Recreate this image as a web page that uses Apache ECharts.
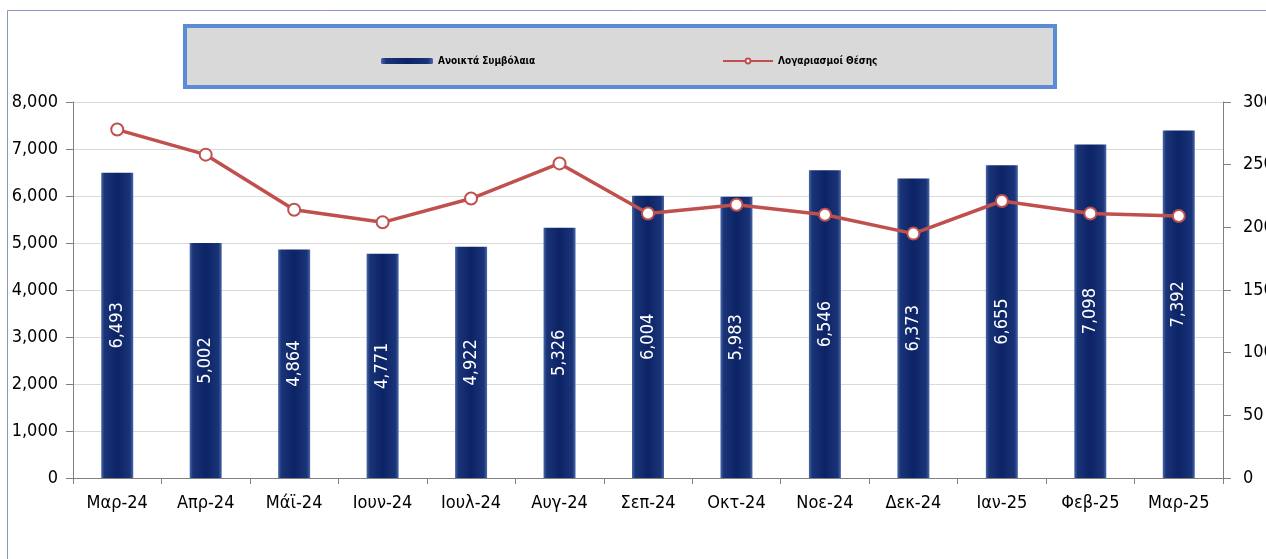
<!DOCTYPE html>
<html><head><meta charset="utf-8">
<script src="https://cdn.jsdelivr.net/npm/echarts@6/dist/echarts.min.js"></script>
<style>html,body{margin:0;padding:0;background:#fff}#c{width:1266px;height:559px}</style>
</head><body><div id="c"></div>
<script>
const categories = ['Μαρ-24','Απρ-24','Μάϊ-24','Ιουν-24','Ιουλ-24','Αυγ-24','Σεπ-24','Οκτ-24','Νοε-24','Δεκ-24','Ιαν-25','Φεβ-25','Μαρ-25'];
const openContracts = [6493,5002,4864,4771,4922,5326,6004,5983,6546,6373,6655,7098,7392];
const accounts = [278,258,214,204,223,251,211,218,210,195,221,211,209];
const leftTicks = {min:0, max:8000, interval:1000};
const rightTicks = {min:0, max:300, interval:50};
const barName = 'Ανοικτά Συμβόλαια';
const lineName = 'Λογαριασμοί Θέσης';

const FONT = "'DejaVu Sans Condensed','Liberation Sans Narrow',sans-serif";
const chart = echarts.init(document.getElementById('c'));
const barGrad = new echarts.graphic.LinearGradient(0,0,1,0,[
  {offset:0,color:'#4a68aa'},{offset:0.1,color:'#1a3478'},{offset:0.5,color:'#0c2466'},{offset:0.9,color:'#1a3478'},{offset:1,color:'#4a68aa'}]);
chart.setOption({
  animation:false,
  textStyle:{fontFamily:FONT},
  graphic:[
    {type:'rect',shape:{x:7.5,y:10.5,width:1300,height:600},style:{fill:'none',stroke:'#8a96c8',lineWidth:1},z:-10},
    {type:'rect',shape:{x:185,y:26,width:870,height:61},style:{fill:'#d9d9d9',stroke:'#5a8bd3',lineWidth:4},z:-5}
  ],
  legend:[
    {data:[barName],left:376,top:51,itemWidth:52,itemHeight:6,itemGap:4,
     textStyle:{fontFamily:FONT,fontSize:10,fontWeight:'bold',color:'#000'}},
    {data:[lineName],left:717,top:51,itemWidth:50,itemHeight:6,
     textStyle:{fontFamily:FONT,fontSize:10,fontWeight:'bold',color:'#000'}}
  ],
  grid:{left:73,right:43,top:102,bottom:81,containLabel:false,outerBoundsMode:'none'},
  xAxis:{type:'category',data:categories,
    axisLine:{lineStyle:{color:'#808080',width:1}},
    axisTick:{show:true,alignWithLabel:false,length:6,lineStyle:{color:'#808080'}},
    axisLabel:{color:'#000',fontSize:18,margin:16,fontFamily:FONT}},
  yAxis:[
    {type:'value',min:leftTicks.min,max:leftTicks.max,interval:leftTicks.interval,
     axisLine:{show:true,lineStyle:{color:'#808080'}},
     axisTick:{show:true,length:7,lineStyle:{color:'#808080'}},
     splitLine:{lineStyle:{color:'#d9d9d9'}},
     axisLabel:{color:'#000',fontSize:18,margin:15,fontFamily:FONT,
       formatter:v=>v.toLocaleString('en-US')}},
    {type:'value',min:rightTicks.min,max:rightTicks.max,interval:rightTicks.interval,position:'right',
     axisLine:{show:true,lineStyle:{color:'#808080'}},
     axisTick:{show:true,length:8,lineStyle:{color:'#808080'}},
     splitLine:{show:false},
     axisLabel:{color:'#000',fontSize:18,margin:20,fontFamily:FONT}}
  ],
  series:[
    {name:barName,type:'bar',data:openContracts,barWidth:32,yAxisIndex:0,
     itemStyle:{color:barGrad},
     label:{show:true,position:'inside',rotate:90,color:'#fff',fontSize:18,fontFamily:FONT,
       formatter:p=>p.value.toLocaleString('en-US')}},
    {name:lineName,type:'line',data:accounts,yAxisIndex:1,
     lineStyle:{color:'#c0504d',width:3.5},
     symbol:'circle',symbolSize:12,
     itemStyle:{color:'#fff',borderColor:'#c0504d',borderWidth:2}}
  ]
});
</script></body></html>
